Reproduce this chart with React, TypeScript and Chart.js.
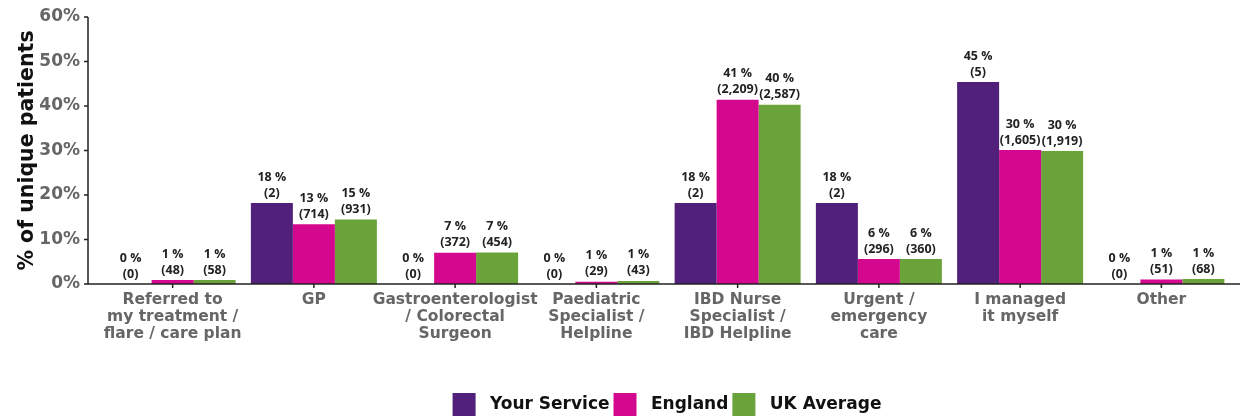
import React, { useEffect, useRef } from "react";
import { Chart, registerables } from "chart.js";

Chart.register(...registerables);

const categories: string[][] = [
  ["Referred to", "my treatment /", "flare / care plan"],
  ["GP"],
  ["Gastroenterologist", "/ Colorectal", "Surgeon"],
  ["Paediatric", "Specialist /", "Helpline"],
  ["IBD Nurse", "Specialist /", "IBD Helpline"],
  ["Urgent /", "emergency", "care"],
  ["I managed", "it myself"],
  ["Other"],
];

const yourServicePct = [0, 18.2, 0, 0, 18.2, 18.2, 45.4, 0];
const yourServiceCount = [0, 2, 0, 0, 2, 2, 5, 0];
const englandPct = [0.9, 13.4, 7.0, 0.5, 41.4, 5.6, 30.1, 1.0];
const englandCount = [48, 714, 372, 29, 2209, 296, 1605, 51];
const ukPct = [0.9, 14.5, 7.1, 0.7, 40.3, 5.6, 29.9, 1.1];
const ukCount = [58, 931, 454, 43, 2587, 360, 1919, 68];
const yTicks = [0, 10, 20, 30, 40, 50, 60];

const seriesNames = ["Your Service", "England", "UK Average"];
const seriesColors = ["#50207a", "#d3088f", "#69a33a"];
const seriesCounts = [yourServiceCount, englandCount, ukCount];

const MAIN_FONT = "'DejaVu Sans', sans-serif";
const LABEL_FONT = "'Open Sans', sans-serif";

const axisPlugin = {
  id: "axisLines",
  afterDatasetsDraw(chart: any) {
    const { ctx, chartArea, scales } = chart;
    const x = scales.x;
    const y = scales.y;
    const ax = chartArea.left - 14;
    const bottom = chartArea.bottom;
    ctx.save();
    ctx.strokeStyle = "#222";
    ctx.lineWidth = 1.5;
    ctx.beginPath();
    ctx.moveTo(ax, y.getPixelForValue(60));
    ctx.lineTo(ax, bottom);
    ctx.moveTo(ax - 3, bottom);
    ctx.lineTo(chartArea.right + 8, bottom);
    yTicks.forEach((v) => {
      const py = y.getPixelForValue(v);
      ctx.moveTo(ax - 4, py);
      ctx.lineTo(ax, py);
    });
    categories.forEach((_, i) => {
      const px = x.getPixelForValue(i);
      ctx.moveTo(px, bottom);
      ctx.lineTo(px, bottom + 4);
    });
    ctx.stroke();
    ctx.restore();
  },
};

const valueLabelPlugin = {
  id: "valueLabels",
  afterDatasetsDraw(chart: any) {
    const { ctx } = chart;
    ctx.save();
    ctx.fillStyle = "#222";
    ctx.font = `bold 12.5px ${LABEL_FONT}`;
    ctx.textAlign = "center";
    ctx.textBaseline = "middle";
    chart.data.datasets.forEach((ds: any, di: number) => {
      const meta = chart.getDatasetMeta(di);
      meta.data.forEach((bar: any, j: number) => {
        const v = ds.data[j] as number;
        const c = seriesCounts[di][j];
        ctx.fillText(`${Math.round(v)} %`, bar.x, bar.y - 26);
        ctx.fillText(`(${c.toLocaleString("en-US")})`, bar.x, bar.y - 10);
      });
    });
    ctx.restore();
  },
};

const legendShiftPlugin = {
  id: "legendShift",
  afterLayout(chart: any) {
    const lg = chart.legend;
    if (lg) {
      lg.left = chart.chartArea.left;
      lg.right = chart.chartArea.right;
    }
  },
};

export default function App() {
  const canvasRef = useRef<HTMLCanvasElement | null>(null);

  useEffect(() => {
    if (!canvasRef.current) return;
    const chart = new Chart(canvasRef.current, {
      type: "bar",
      data: {
        labels: categories,
        datasets: [yourServicePct, englandPct, ukPct].map((d, i) => ({
          label: seriesNames[i],
          data: d,
          backgroundColor: seriesColors[i],
          borderWidth: 0,
          categoryPercentage: 0.892,
          barPercentage: 1,
        })),
      },
      options: {
        animation: false,
        responsive: true,
        maintainAspectRatio: false,
        layout: { padding: { top: 17, right: 11, left: 0, bottom: -9 } },
        plugins: {
          tooltip: { enabled: false },
          legend: {
            position: "bottom",
            align: "center",
            labels: {
              boxWidth: 23,
              boxHeight: 23,
              padding: 4,
              color: "#111",
              font: { family: MAIN_FONT, size: 17, weight: "bold" },
              generateLabels: (chart: any) =>
                chart.data.datasets.map((ds: any, i: number) => ({
                  text: " " + ds.label,
                  fillStyle: ds.backgroundColor,
                  strokeStyle: ds.backgroundColor,
                  lineWidth: 0,
                  fontColor: "#111",
                  hidden: false,
                  datasetIndex: i,
                })),
            },
          },
        },
        scales: {
          x: {
            grid: { display: false, drawTicks: false },
            border: { display: false },
            ticks: {
              padding: 8,
              color: "#666",
              maxRotation: 0,
              autoSkip: false,
              font: { family: MAIN_FONT, size: 15.5, weight: "bold", lineHeight: 1.08 },
            },
            afterFit(scale: any) {
              scale.height = 105;
              scale.paddingTop = 0;
              scale.paddingBottom = 0;
            },
          },
          y: {
            min: 0,
            max: 60,
            grid: { display: false, drawTicks: false },
            border: { display: false },
            ticks: {
              stepSize: 10,
              padding: 22,
              color: "#666",
              font: { family: MAIN_FONT, size: 17, weight: "bold" },
              callback: (v: any) => `${v}%`,
            },
            title: {
              display: true,
              text: "% of unique patients",
              color: "#111",
              padding: { top: 15, bottom: 0 },
              font: { family: MAIN_FONT, size: 20.5, weight: "bold" },
            },
            afterFit(scale: any) {
              scale.width = 102;
              scale.paddingTop = 0;
              scale.paddingBottom = 0;
            },
          },
        },
      },
      plugins: [axisPlugin, valueLabelPlugin, legendShiftPlugin],
    });
    return () => chart.destroy();
  }, []);

  return (
    <div style={{ position: "absolute", left: 0, top: 0, width: 1243, height: 417, background: "#fff", overflow: "hidden" }}>
      <canvas ref={canvasRef} />
    </div>
  );
}
